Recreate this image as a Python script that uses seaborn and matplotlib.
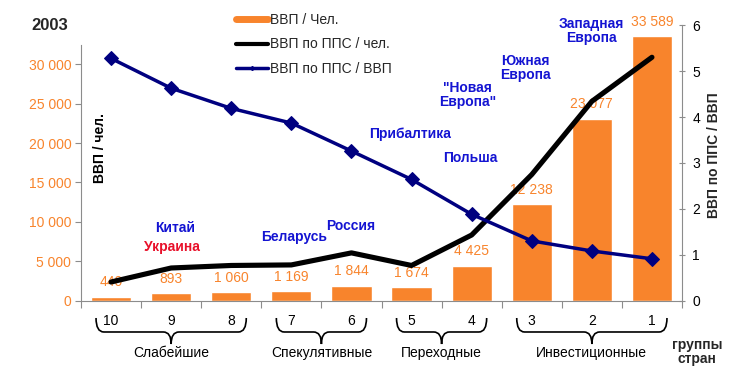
import numpy as np
import pandas as pd
import matplotlib
matplotlib.use("Agg")
import matplotlib.pyplot as plt
from matplotlib.lines import Line2D
from matplotlib.path import Path
from matplotlib.patches import PathPatch
import matplotlib.transforms as mtransforms
import seaborn as sns

# ---- data ----
groups = ["10", "9", "8", "7", "6", "5", "4", "3", "2", "1"]
gdp_per_capita = [440, 893, 1060, 1169, 1844, 1674, 4425, 12238, 23077, 33589]
gdp_ppp_per_capita = [2350, 4130, 4450, 4520, 6050, 4450, 8320, 16000, 25300, 30900]
ppp_to_gdp = [5.28, 4.63, 4.19, 3.87, 3.26, 2.64, 1.88, 1.30, 1.08, 0.91]
bar_labels = ["440", "893", "1 060", "1 169", "1 844", "1 674", "4 425", "12 238", "23 077", "33 589"]
left_ticks = [0, 5000, 10000, 15000, 20000, 25000, 30000]
left_tick_labels = ["0", "5 000", "10 000", "15 000", "20 000", "25 000", "30 000"]
right_ticks = [0, 1, 2, 3, 4, 5, 6]
group_names = ["Слабейшие", "Спекулятивные", "Переходные", "Инвестиционные"]
group_spans = [("10", "8"), ("7", "6"), ("5", "4"), ("3", "1")]
legend_labels = ["ВВП / Чел.", "ВВП по ППС / чел.", "ВВП по ППС / ВВП"]
# country labels: (text, group position, left-axis value, colour key)
country_labels = [
    ("Китай", 1.07, 9170, "blue"),
    ("Украина", 1.02, 6840, "red"),
    ("Беларусь", 3.04, 8030, "blue"),
    ("Россия", 3.98, 9470, "blue"),
    ("Прибалтика", 4.97, 21100, "blue"),
    ("Польша", 5.97, 18100, "blue"),
    ("\"Новая\nЕвропа\"", 5.93, 26100, "blue"),
    ("Южная\nЕвропа", 6.9, 29600, "blue"),
    ("Западная\nЕвропа", 8.0, 34240, "blue"),
]

ORANGE = "#F8842C"
NAVY = "#000080"
BLUE = "#1414D2"
RED = "#E8102A"
GREY = "#8C8C8C"

sns.set_style("white")
plt.rcParams["font.family"] = ["Liberation Sans", "DejaVu Sans"]

fig = plt.figure(figsize=(7.5, 3.73), dpi=100)
ax = fig.add_axes([81 / 750, 1 - 300.5 / 373, 601 / 750, 275.5 / 373])

df = pd.DataFrame({"group": groups, "gdp": gdp_per_capita})
sns.barplot(data=df, x="group", y="gdp", order=groups, color=ORANGE,
            saturation=1, width=0.67, ax=ax, zorder=2)
pos = np.arange(len(groups))

# bar value labels
for x, v, lab in zip(pos, gdp_per_capita, bar_labels):
    ax.annotate(lab, (x, v), xytext=(0, 10.5), textcoords="offset points",
                ha="center", va="center", color=ORANGE, fontsize=10, zorder=3)

# black line: GDP PPP per capita (left axis)
sns.lineplot(x=pos, y=gdp_ppp_per_capita, ax=ax, color="black", lw=3.7,
             zorder=4, legend=False)

ax.set_xlim(-0.5, len(groups) - 0.5)
ax.set_ylim(0, 35000)
ax.set_yticks(left_ticks)
ax.set_yticklabels(left_tick_labels)
ax.tick_params(axis="y", colors=GREY, labelcolor=ORANGE, labelsize=10,
               length=4, width=0.8, pad=3, left=True, direction="out")
ax.set_ylabel("")
ax.set_xlabel("")

# x ticks: boundaries as major ticks, labels at centres
ax.set_xticks(np.arange(-0.5, len(groups), 1.0))
ax.set_xticklabels([])
ax.set_xticks(pos, minor=True)
ax.set_xticklabels(groups, minor=True)
ax.tick_params(axis="x", which="major", bottom=True, length=5, width=0.8,
               color=GREY, direction="out")
ax.tick_params(axis="x", which="minor", bottom=True, length=0, pad=10,
               labelsize=10, labelcolor="black")

for s in ["top", "right"]:
    ax.spines[s].set_visible(False)
for s in ["left", "bottom"]:
    ax.spines[s].set_color(GREY)
    ax.spines[s].set_linewidth(0.8)
ax.spines["left"].set_bounds(0, 32400)

# right axis: ratio
ax2 = ax.twinx()
sns.lineplot(x=pos, y=ppp_to_gdp, ax=ax2, color=NAVY, lw=2.5, marker="D",
             markersize=7, markeredgecolor=NAVY, zorder=5, legend=False)
ax2.set_ylim(0, 6 * 35000 / 34950)
ax2.set_yticks(right_ticks)
ax2.tick_params(axis="y", colors=GREY, labelcolor="black", labelsize=10,
                length=5, width=0.8, direction="inout", pad=5, right=True)
ax2.set_ylabel("")
for s in ["top", "left", "bottom"]:
    ax2.spines[s].set_visible(False)
ax2.spines["right"].set_color(GREY)
ax2.spines["right"].set_linewidth(0.8)
ax2.set_xlim(-0.5, len(groups) - 0.5)

# axis titles
ax.text(-0.18, 19380, "ВВП / чел.", rotation=90, ha="center", va="center",
        fontsize=10, fontweight="bold", color="black")
fig.text(714 / 750, 1 - 155 / 373, "ВВП по ППС / ВВП", rotation=90,
         ha="center", va="center", fontsize=10, fontweight="bold")
fig.text(50 / 750, 1 - 25 / 373, "2003", ha="center", va="center",
         fontsize=12, fontweight="bold")

# country labels
for txt, x, y, c in country_labels:
    ax.text(x, y, txt, ha="center", va="center", fontsize=10,
            fontweight="bold", color=BLUE if c == "blue" else RED,
            linespacing=1.0, zorder=6)

# braces and group names
trans = mtransforms.blended_transform_factory(ax.transData, ax.transAxes)
ytop, ymid, ybot = -0.0635, -0.1143, -0.158
idx = {g: i for i, g in enumerate(groups)}
for name, (g0, g1) in zip(group_names, group_spans):
    x0 = idx[g0] - 0.25
    x1 = idx[g1] + 0.25
    xm = (x0 + x1) / 2
    dx = 0.13
    verts = [
        (x0, ytop), (x0, ymid), (x0 + dx, ymid),
        (xm - dx, ymid), (xm, ymid), (xm, ybot),
        (xm, ymid), (xm + dx, ymid),
        (x1 - dx, ymid), (x1, ymid), (x1, ytop),
    ]
    codes = [Path.MOVETO, Path.CURVE3, Path.CURVE3,
             Path.LINETO, Path.CURVE3, Path.CURVE3,
             Path.CURVE3, Path.CURVE3,
             Path.LINETO, Path.CURVE3, Path.CURVE3]
    patch = PathPatch(Path(verts, codes), transform=trans, fill=False,
                      lw=1.2, edgecolor="black", clip_on=False)
    ax.add_patch(patch)
    ax.text(xm, -0.19, name, transform=trans, ha="center", va="center",
            fontsize=10, color="black")

fig.text(697 / 750, 1 - 352 / 373, "группы\nстран", ha="center", va="center",
         fontsize=10, fontweight="bold", linespacing=1.0)

# legend
handles = [
    Line2D([0], [0], color=ORANGE, lw=5),
    Line2D([0], [0], color="black", lw=3),
    Line2D([0], [0], color=NAVY, lw=2.5, marker="D", markersize=2),
]
fig.legend(handles, legend_labels, loc="upper left",
           bbox_to_anchor=(236 / 750, 1 - 13 / 373), frameon=False,
           fontsize=10, handlelength=2.3, handletextpad=0.15,
           labelspacing=0.75, borderaxespad=0, borderpad=0)

fig.savefig("out.png", dpi=100)
